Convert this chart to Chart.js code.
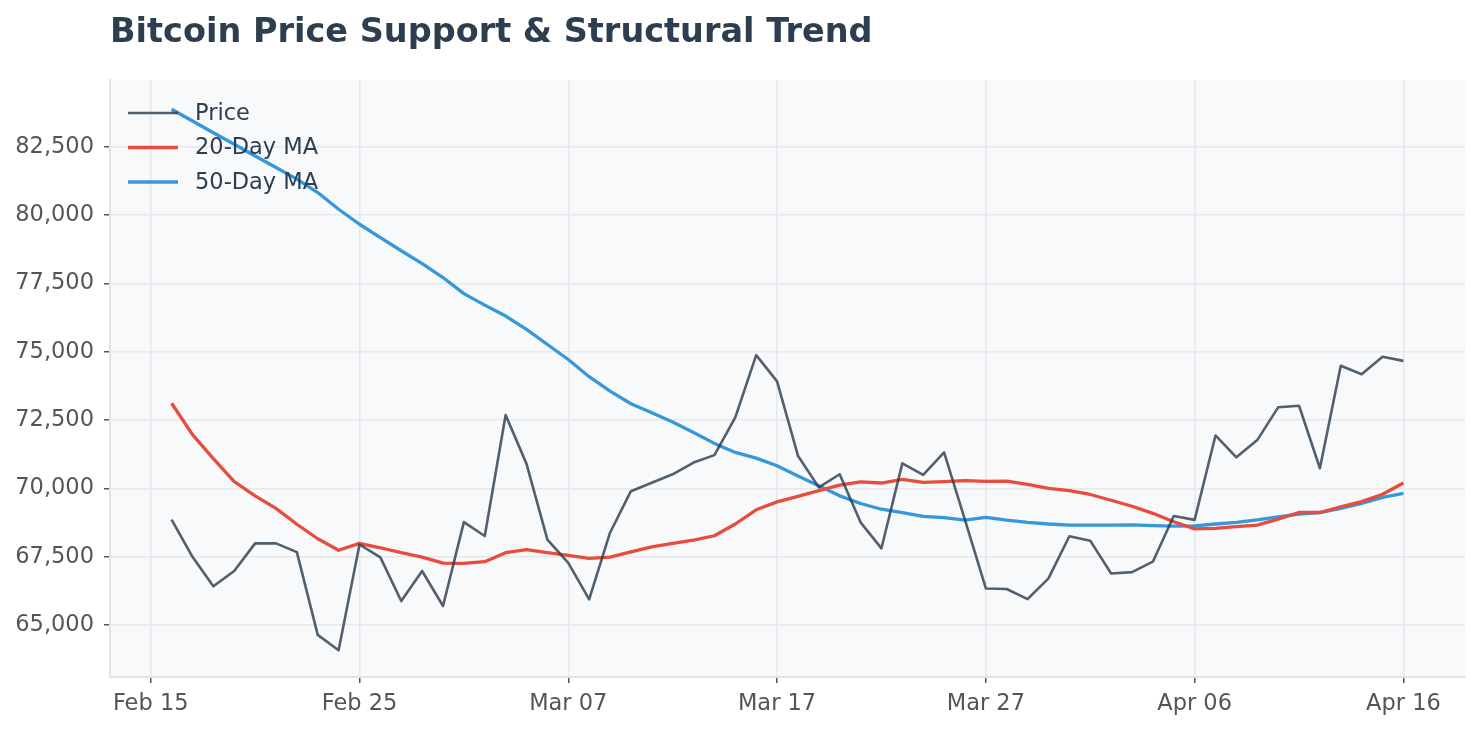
<!DOCTYPE html>
<html>
<head>
<meta charset="utf-8">
<title>Bitcoin Price Support & Structural Trend</title>
<script src="https://cdn.jsdelivr.net/npm/chart.js@4.4.1/dist/chart.umd.min.js"></script>
<style>
    body { margin: 0; background: #ffffff; }
    canvas { display: block; }
</style>
</head>
<body>
<canvas id="trendChart" width="1480" height="730"></canvas>
<script>
// daily closes, Feb 16 .. Apr 16 (x = days after Feb 15)
const price = [
    68860, 67500, 66420, 66980, 67990, 67990, 67670, 64640, 64080, 67950,
    67480, 65880, 66980, 65700, 68770, 68260, 72690, 70900, 68130, 67280,
    65940, 68380, 69900, 70210, 70520, 70950, 71220, 72600, 74880, 73920,
    71200, 70040, 70520, 68760, 67810, 70920, 70500, 71320, 68850, 66340,
    66320, 65950, 66710, 68250, 68090, 66890, 66940, 67320, 68990, 68850,
    71940, 71140, 71770, 72970, 73030, 70740, 74490, 74180, 74820, 74670
];

const ma20 = [
    73120, 71970, 71090, 70250, 69730, 69270, 68690, 68160, 67740, 67990,
    67830, 67650, 67490, 67270, 67260, 67320, 67650, 67760, 67650, 67550,
    67440, 67490, 67680, 67860, 67990, 68110, 68270, 68700, 69220, 69510,
    69710, 69920, 70120, 70240, 70200, 70330, 70220, 70250, 70290, 70260,
    70270, 70150, 70000, 69920, 69780, 69570, 69350, 69090, 68780, 68520,
    68540, 68600, 68660, 68880, 69120, 69120, 69330, 69520, 69790, 70200
];

const ma50 = [
    83880, 83450, 83020, 82600, 82170, 81750, 81320, 80830, 80220, 79670,
    79180, 78700, 78230, 77720, 77130, 76710, 76310, 75820, 75270, 74720,
    74090, 73560, 73100, 72770, 72430, 72050, 71650, 71320, 71110, 70830,
    70460, 70100, 69730, 69450, 69240, 69120, 68980, 68930, 68840, 68940,
    68840, 68760, 68700, 68660, 68660, 68660, 68670, 68640, 68620, 68630,
    68700, 68760, 68850, 68960, 69060, 69120, 69270, 69450, 69670, 69820
];

const xTickDays = [0, 10, 20, 30, 40, 50, 60];
const xTickLabels = ['Feb 15', 'Feb 25', 'Mar 07', 'Mar 17', 'Mar 27', 'Apr 06', 'Apr 16'];
const yTicks = [65000, 67500, 70000, 72500, 75000, 77500, 80000, 82500];

const FONT = "'DejaVu Sans', 'Liberation Sans', sans-serif";

function toPoints(values) {
    return values.map(function (v, i) {
        return { x: i + 1, y: v };
    });
}

// plot background + title
const framePlugin = {
    id: 'frame',
    beforeDraw: function (chart) {
        const ctx = chart.ctx;
        const a = chart.chartArea;
        ctx.save();
        ctx.fillStyle = '#f8f9fa';
        ctx.fillRect(a.left, a.top, a.right - a.left, a.bottom - a.top);
        ctx.fillStyle = '#2c3e50';
        ctx.font = 'bold 33.5px ' + FONT;
        ctx.textAlign = 'left';
        ctx.textBaseline = 'alphabetic';
        ctx.fillText('Bitcoin Price Support & Structural Trend', a.left, 42);
        ctx.restore();
    }
};

// legend in the upper left corner of the plot, no frame
const legendPlugin = {
    id: 'innerLegend',
    afterDatasetsDraw: function (chart) {
        const ctx = chart.ctx;
        const a = chart.chartArea;
        ctx.save();
        ctx.font = '22.5px ' + FONT;
        ctx.textBaseline = 'middle';
        chart.data.datasets.forEach(function (ds, i) {
            const y = a.top + 33 + i * 34.5;
            ctx.strokeStyle = ds.borderColor;
            ctx.lineWidth = ds.borderWidth;
            ctx.beginPath();
            ctx.moveTo(a.left + 18, y);
            ctx.lineTo(a.left + 68, y);
            ctx.stroke();
            ctx.fillStyle = '#2c3e50';
            ctx.fillText(ds.label, a.left + 85, y + 1);
        });
        ctx.restore();
    }
};

const ctx = document.getElementById('trendChart');

new Chart(ctx, {
    type: 'line',
    data: {
        datasets: [
            {
                label: 'Price',
                data: toPoints(price),
                borderColor: 'rgba(44, 62, 80, 0.82)',
                borderWidth: 2.6
            },
            {
                label: '20-Day MA',
                data: toPoints(ma20),
                borderColor: '#e74c3c',
                borderWidth: 3.3
            },
            {
                label: '50-Day MA',
                data: toPoints(ma50),
                borderColor: '#3498db',
                borderWidth: 3.3
            }
        ]
    },
    options: {
        responsive: false,
        devicePixelRatio: 1,
        animation: false,
        layout: {
            padding: { top: 80, right: 15, left: 0, bottom: 0 }
        },
        elements: {
            point: { radius: 0 },
            line: { tension: 0, borderJoinStyle: 'round', fill: false }
        },
        plugins: {
            legend: { display: false },
            title: { display: false },
            tooltip: { enabled: false }
        },
        scales: {
            x: {
                type: 'linear',
                min: -1.95,
                max: 62.95,
                afterBuildTicks: function (scale) {
                    scale.ticks = xTickDays.map(function (d) { return { value: d }; });
                },
                afterFit: function (scale) {
                    scale.height = 53;
                },
                ticks: {
                    autoSkip: false,
                    maxRotation: 0,
                    padding: 8,
                    color: '#555555',
                    font: { family: FONT, size: 22.5 },
                    callback: function (value) {
                        const i = xTickDays.indexOf(value);
                        return i >= 0 ? xTickLabels[i] : '';
                    }
                },
                grid: {
                    color: '#e6e8eb',
                    lineWidth: 1.5,
                    tickColor: '#555555',
                    tickLength: 6,
                    tickWidth: 1.5
                },
                border: { color: '#e0e2e5', width: 2 }
            },
            y: {
                min: 63100,
                max: 84950,
                afterBuildTicks: function (scale) {
                    scale.ticks = yTicks.map(function (v) { return { value: v }; });
                },
                afterFit: function (scale) {
                    scale.width = 110;
                },
                ticks: {
                    padding: 10,
                    color: '#555555',
                    font: { family: FONT, size: 22.5 },
                    callback: function (value) {
                        return value.toLocaleString('en-US');
                    }
                },
                grid: {
                    color: '#e6e8eb',
                    lineWidth: 1.5,
                    tickColor: '#555555',
                    tickLength: 6,
                    tickWidth: 1.5
                },
                border: { color: '#e0e2e5', width: 2 }
            }
        }
    },
    plugins: [framePlugin, legendPlugin]
});
</script>
</body>
</html>
